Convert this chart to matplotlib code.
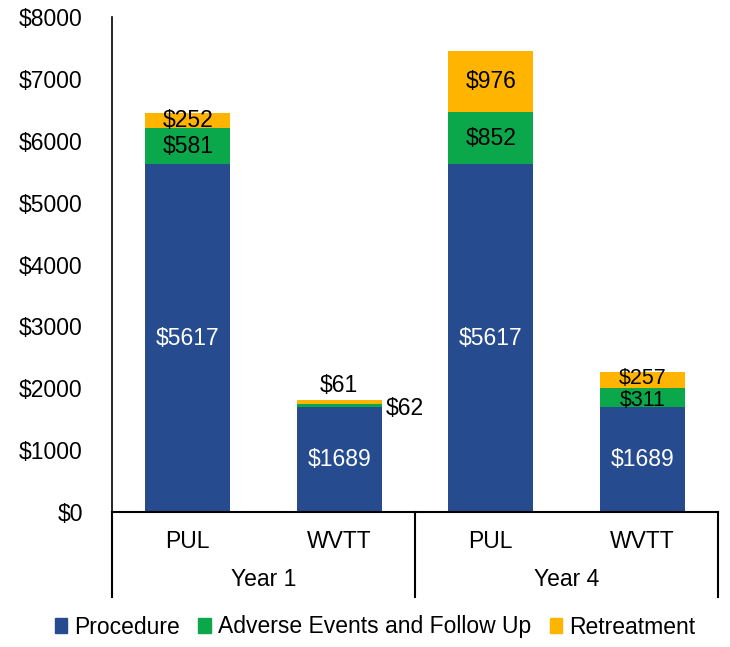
import matplotlib
matplotlib.use("Agg")
import matplotlib.pyplot as plt
from matplotlib.patches import Patch

plt.rcParams['font.family'] = ['Liberation Sans', 'DejaVu Sans']

treatments = ["PUL", "WVTT", "PUL", "WVTT"]
years = ["Year 1", "Year 4"]
procedure = [5617, 1689, 5617, 1689]
adverse = [581, 62, 852, 311]
retreatment = [252, 61, 976, 257]
yticks = [0, 1000, 2000, 3000, 4000, 5000, 6000, 7000, 8000]
series_names = ["Procedure", "Adverse Events and Follow Up", "Retreatment"]

c_blue = "#264B8F"
c_green = "#0AA84A"
c_yellow = "#FFB500"

W, H = 730, 647
fig = plt.figure(figsize=(W / 100, H / 100), dpi=100)
ax = fig.add_axes([112 / W, (H - 512) / H, 606 / W, 495 / H])

x = list(range(len(treatments)))
bw = 0.56
ax.bar(x, procedure, width=bw, color=c_blue)
ax.bar(x, adverse, width=bw, bottom=procedure, color=c_green)
bottom3 = [p + a for p, a in zip(procedure, adverse)]
ax.bar(x, retreatment, width=bw, bottom=bottom3, color=c_yellow)

fs = 16.5
ax.set_xlim(-0.5, len(x) - 0.5)
ax.set_ylim(0, 8000)
ax.set_yticks(yticks)
ax.set_yticklabels([f"${v}" for v in yticks], fontsize=fs)
ax.tick_params(axis='y', length=0, pad=21)
ax.set_xticks([])
for s in ["top", "right"]:
    ax.spines[s].set_visible(False)
ax.spines["left"].set_linewidth(1.2)
ax.spines["bottom"].set_linewidth(1.5)

for i in x:
    p, a, r = procedure[i], adverse[i], retreatment[i]
    ax.text(i, p / 2, f"${p}", ha="center", va="center", color="white", fontsize=fs)
    if a > 200:
        tight = (a + r) < 700
        dy = 35 if tight else 0
        f2 = 15.5 if tight else fs
        ax.text(i, p + a / 2 - dy, f"${a}", ha="center", va="center", color="black", fontsize=f2)
        ax.text(i, p + a + r / 2 + dy, f"${r}", ha="center", va="center", color="black", fontsize=f2)
    else:
        ax.text(i, p + a + r + 50, f"${r}", ha="center", va="bottom", color="black", fontsize=fs)
        ax.text(i + bw / 2 + 0.03, p + a / 2 - 50, f"${a}", ha="left", va="center",
                color="black", fontsize=fs)

# category axis boxes
depth = -(597 - 512) / 495
for xv in [0, 0.5, 1.0]:
    ax.plot([xv, xv], [0, depth], transform=ax.transAxes, color="black",
            lw=1.5, clip_on=False)
for i, t in enumerate(treatments):
    ax.text((i + 0.5) / len(treatments), -(541 - 512) / 495, t, transform=ax.transAxes,
            ha="center", va="center", fontsize=fs)
for j, y in enumerate(years):
    ax.text((j + 0.5) / len(years), -(580 - 512) / 495, y, transform=ax.transAxes,
            ha="center", va="center", fontsize=fs)

handles = [Patch(color=c) for c in (c_blue, c_green, c_yellow)]
fig.legend(handles, series_names, loc="center", bbox_to_anchor=(375 / W, 1 - 627 / H),
           ncol=3, frameon=False, fontsize=fs, handlelength=0.55, handleheight=0.6,
           handletextpad=0.3, columnspacing=0.8)

fig.savefig("out.png", dpi=100)
